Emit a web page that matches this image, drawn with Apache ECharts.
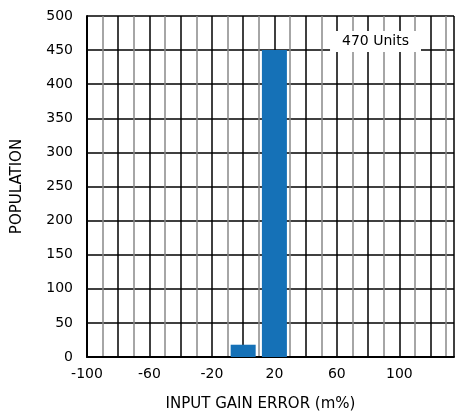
<!DOCTYPE html>
<html>
<head>
  <meta charset="utf-8">
  <title>Input Gain Error</title>
  <script src="https://cdn.jsdelivr.net/npm/echarts@6/dist/echarts.min.js"></script>
  <style>
    html, body { margin: 0; padding: 0; background: #fff; }
  </style>
</head>
<body>
  <div id="main" style="width: 457px;height:417px;"></div>
  <script type="text/javascript">
    // histogram bins (m%) and counts
    var binCenters = [0, 20];
    var counts = [18, 450];
    var unitsLabel = '470 Units';

    var chart = echarts.init(document.getElementById('main'));

    var font = 'DejaVu Sans';

    var option = {
      animation: false,
      textStyle: { fontFamily: font },
      grid: { left: 87, right: -1, top: 16, bottom: 60 },
      title: {
        text: unitsLabel,
        right: 36,
        top: 31,
        padding: [3, 12, 4, 12],
        backgroundColor: '#fff',
        textStyle: { fontFamily: font, fontSize: 14, fontWeight: 'normal', color: '#000' }
      },
      xAxis: {
        type: 'value',
        min: -100,
        max: 135,
        interval: 10,
        name: 'INPUT GAIN ERROR (m%)',
        nameLocation: 'middle',
        nameGap: 40,
        nameTextStyle: { fontFamily: font, fontSize: 15, color: '#000', padding: [0, 0, 0, -20] },
        axisLine: { lineStyle: { color: '#000', width: 2 } },
        axisTick: { show: false },
        axisLabel: {
          color: '#000',
          fontSize: 14,
          margin: 10,
          formatter: function (v) { return (v + 100) % 40 === 0 ? String(v) : ''; }
        },
        splitLine: { show: true, lineStyle: { color: ['#000', '#888'], width: 1.5 } }
      },
      yAxis: {
        type: 'value',
        min: 0,
        max: 500,
        interval: 50,
        name: 'POPULATION',
        nameLocation: 'middle',
        nameGap: 62,
        nameTextStyle: { fontFamily: font, fontSize: 15, color: '#000' },
        axisLine: { show: true, onZero: false, lineStyle: { color: '#000', width: 2 } },
        axisTick: { show: false },
        axisLabel: { color: '#000', fontSize: 14, margin: 14 },
        splitLine: { show: true, lineStyle: { color: '#000', width: 1.5 } }
      },
      series: [{
        type: 'bar',
        barWidth: 25,
        itemStyle: { color: '#1571b7' },
        data: binCenters.map(function (x, i) { return [x, counts[i]]; })
      }]
    };

    chart.setOption(option);
  </script>
</body>
</html>
